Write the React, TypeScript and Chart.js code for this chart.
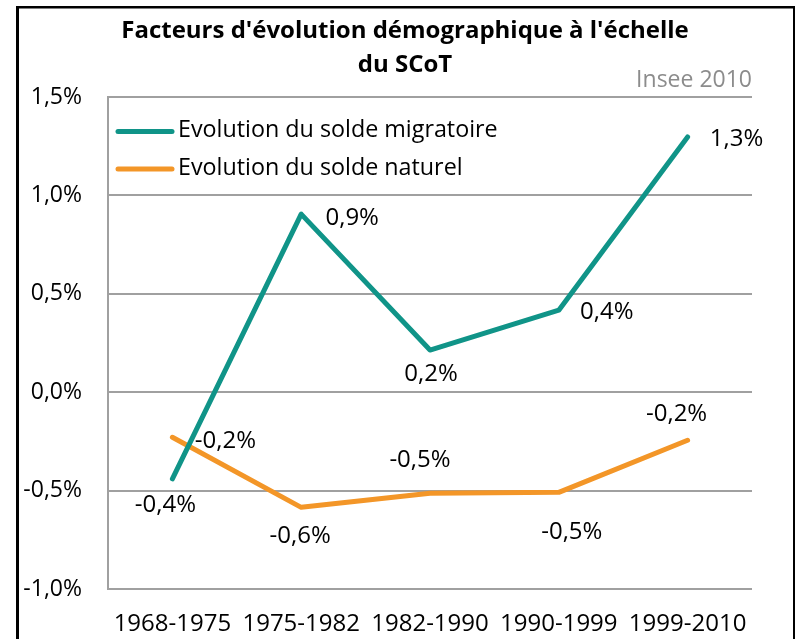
import React, { useEffect, useRef } from "react";
import { Chart, registerables } from "chart.js";

Chart.register(...registerables);

const categories = ["1968-1975", "1975-1982", "1982-1990", "1990-1999", "1999-2010"];
const migratoire = [-0.44, 0.905, 0.214, 0.417, 1.297];
const naturel = [-0.229, -0.585, -0.514, -0.509, -0.244];
const seriesNames = ["Evolution du solde migratoire", "Evolution du solde naturel"];
const titleLines = ["Facteurs d'évolution démographique à l'échelle", "du SCoT"];
const sourceText = "Insee 2010";
const yTicks = [-1.0, -0.5, 0.0, 0.5, 1.0, 1.5];

const TEAL = "rgb(16,148,136)";
const ORANGE = "rgb(243,150,40)";
const FONT = "'Open Sans', 'Noto Sans', sans-serif";

const fmt = (v: number) => v.toFixed(1).replace(".", ",") + "%";

const decorPlugin = {
  id: "decor",
  beforeDraw(chart: any) {
    const ctx = chart.ctx;
    ctx.save();
    ctx.fillStyle = "#ffffff";
    ctx.fillRect(0, 0, chart.width, chart.height);
    ctx.restore();
  },
  afterDraw(chart: any) {
    const ctx = chart.ctx;
    const area = chart.chartArea;
    ctx.save();
    // frame
    ctx.fillStyle = "#000000";
    ctx.fillRect(16, 6, 3, 700);
    ctx.fillRect(16, 6, 779, 2.5);
    ctx.fillRect(793, 6, 2, 700);
    // title
    ctx.fillStyle = "#000000";
    ctx.font = `bold 24px ${FONT}`;
    ctx.textAlign = "center";
    ctx.textBaseline = "middle";
    ctx.fillText(titleLines[0], 405, 31);
    ctx.fillText(titleLines[1], 405, 65);
    // source
    ctx.fillStyle = "#8c8c8c";
    ctx.font = `23px ${FONT}`;
    ctx.textAlign = "right";
    ctx.fillText(sourceText, area.right, 80);
    // legend
    const colors = [TEAL, ORANGE];
    const ys = [131.5, 169];
    ctx.font = `23.3px ${FONT}`;
    ctx.textAlign = "left";
    for (let i = 0; i < 2; i++) {
      ctx.strokeStyle = colors[i];
      ctx.lineWidth = 5;
      ctx.lineCap = "round";
      ctx.beginPath();
      ctx.moveTo(area.left + 10, ys[i]);
      ctx.lineTo(area.left + 64, ys[i]);
      ctx.stroke();
      ctx.fillStyle = "#000000";
      ctx.fillText(seriesNames[i], area.left + 70, ys[i] - 1);
    }
    // data labels
    ctx.font = `24px ${FONT}`;
    ctx.fillStyle = "#000000";
    ctx.textAlign = "center";
    ctx.textBaseline = "middle";
    chart.data.datasets.forEach((ds: any, di: number) => {
      const meta = chart.getDatasetMeta(di);
      const offs = ds.labelOffsets || [];
      meta.data.forEach((pt: any, i: number) => {
        const o = offs[i] || [0, -25];
        ctx.fillText(fmt(ds.data[i]), pt.x + o[0], pt.y + o[1]);
      });
    });
    ctx.restore();
  },
};

export default function App() {
  const ref = useRef<HTMLCanvasElement | null>(null);
  useEffect(() => {
    if (!ref.current) return;
    const chart = new Chart(ref.current, {
      type: "line",
      data: {
        labels: categories,
        datasets: [
          {
            label: seriesNames[0],
            data: migratoire,
            borderColor: TEAL,
            backgroundColor: TEAL,
            borderWidth: 5,
            pointRadius: 0,
            borderCapStyle: "round",
            borderJoinStyle: "round",
            tension: 0,
            labelOffsets: [[-7, 26], [51, 4], [1, 24], [48, 2], [49, 2]],
          } as any,
          {
            label: seriesNames[1],
            data: naturel,
            borderColor: ORANGE,
            backgroundColor: ORANGE,
            borderWidth: 5,
            pointRadius: 0,
            borderCapStyle: "round",
            borderJoinStyle: "round",
            tension: 0,
            labelOffsets: [[53, 4], [-1, 29], [-10, -33], [13, 40], [-11, -26]],
          } as any,
        ],
      },
      options: {
        responsive: false,
        animation: false,
        devicePixelRatio: 1,
        layout: { padding: { left: 20, right: 46, top: 97, bottom: 0 } },
        plugins: {
          legend: { display: false },
          title: { display: false },
          tooltip: { enabled: false },
        },
        scales: {
          x: {
            offset: true,
            grid: { display: false, drawTicks: false, offset: true },
            border: { display: false },
            ticks: {
              color: "#000000",
              font: { family: FONT, size: 24 },
              padding: 21,
              maxRotation: 0,
              autoSkip: false,
            },
            afterFit: (s: any) => {
              s.height = 50;
            },
          },
          y: {
            min: -1,
            max: 1.5,
            afterBuildTicks: (s: any) => {
              s.ticks = yTicks.map((v) => ({ value: v }));
            },
            grid: { color: "#a0a0a0", lineWidth: 2, drawTicks: false },
            border: { display: true, color: "#a0a0a0", width: 2 },
            ticks: {
              color: "#000000",
              font: { family: FONT, size: 23 },
              padding: 26,
              callback: (v: any) => fmt(Number(v)),
            },
            afterFit: (s: any) => {
              s.width = 88;
            },
          },
        },
      },
      plugins: [decorPlugin],
    });
    return () => chart.destroy();
  }, []);
  return (
    <canvas
      ref={ref}
      width={798}
      height={639}
      style={{ position: "fixed", left: 0, top: 0, width: 798, height: 639 }}
    />
  );
}
